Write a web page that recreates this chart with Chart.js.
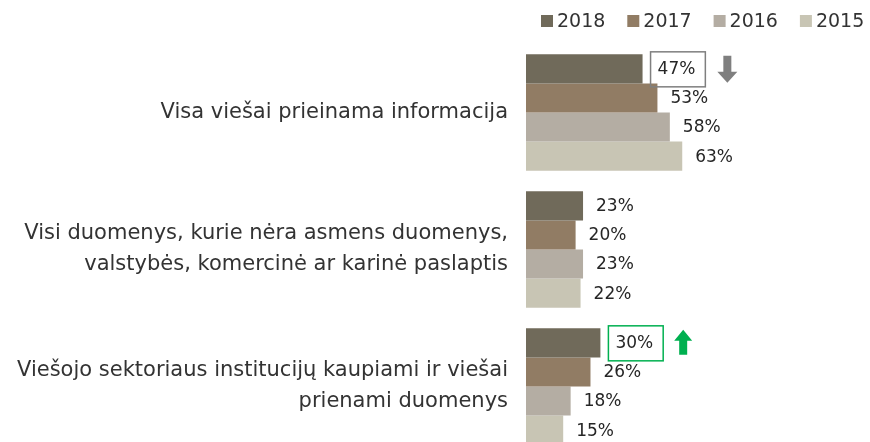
<!DOCTYPE html>
<html>
<head>
<meta charset="utf-8">
<script src="https://cdn.jsdelivr.net/npm/chart.js@4.4.1/dist/chart.umd.min.js"></script>
<style>
  html, body { margin: 0; padding: 0; background: #fff; overflow: hidden; }
  #wrap { width: 870px; height: 470px; }
</style>
</head>
<body>
<div id="wrap"><canvas id="openData" width="870" height="470"></canvas></div>
<script>
// categories (multi-line labels)
var categories = [
    ['Visa viešai prieinama informacija'],
    ['Visi duomenys, kurie nėra asmens duomenys,', 'valstybės, komercinė ar karinė paslaptis'],
    ['Viešojo sektoriaus institucijų kaupiami ir viešai', 'prienami duomenys']
];
var years = ['2018', '2017', '2016', '2015'];
var values2018 = [47, 23, 30];
var values2017 = [53, 20, 26];
var values2016 = [58, 23, 18];
var values2015 = [63, 22, 15];
var yearColors = ['#706a5a', '#917c64', '#b4ada3', '#c8c5b4'];

// highlighted labels: [dataset, index, colour, direction]
var highlights = [
    [0, 0, '#7f7f7f', 'down'],
    [0, 2, '#00b050', 'up']
];

var fontName = '"DejaVu Sans", sans-serif';

var labelsPlugin = {
    id: 'valueLabels',
    afterDatasetsDraw: function(chart) {
        var ctx = chart.ctx;
        ctx.save();
        ctx.font = '17px ' + fontName;
        ctx.textBaseline = 'middle';
        ctx.textAlign = 'left';
        chart.data.datasets.forEach(function(ds, di) {
            var meta = chart.getDatasetMeta(di);
            meta.data.forEach(function(bar, i) {
                var txt = ds.data[i] + '%';
                var hl = null;
                highlights.forEach(function(h) {
                    if (h[0] === di && h[1] === i) hl = h;
                });
                var tx = bar.x + (hl ? 15 : 13);
                var ty = bar.y + 1;
                ctx.fillStyle = '#262626';
                ctx.fillText(txt, tx, ty);
                if (hl) {
                    var w = ctx.measureText(txt).width;
                    var left = bar.x + 8;
                    var right = tx + w + 10;
                    ctx.strokeStyle = hl[2];
                    ctx.lineWidth = 1.5;
                    ctx.strokeRect(left, bar.y - 17, right - left, 35);
                    // arrow
                    var top = bar.y - 13, bot = bar.y + 14;
                    var ax;
                    ctx.fillStyle = hl[2];
                    ctx.beginPath();
                    if (hl[3] === 'down') {
                        ax = right + 22;
                        ctx.moveTo(ax - 4, top);
                        ctx.lineTo(ax + 4, top);
                        ctx.lineTo(ax + 4, bot - 11);
                        ctx.lineTo(ax + 10, bot - 11);
                        ctx.lineTo(ax, bot);
                        ctx.lineTo(ax - 10, bot - 11);
                        ctx.lineTo(ax - 4, bot - 11);
                    } else {
                        ax = right + 20;
                        ctx.moveTo(ax - 4, bot - 2);
                        ctx.lineTo(ax + 4, bot - 2);
                        ctx.lineTo(ax + 4, top + 11);
                        ctx.lineTo(ax + 9, top + 11);
                        ctx.lineTo(ax, top);
                        ctx.lineTo(ax - 9, top + 11);
                        ctx.lineTo(ax - 4, top + 11);
                    }
                    ctx.closePath();
                    ctx.fill();
                }
            });
        });
        ctx.restore();
    }
};

var legendPlugin = {
    id: 'topLegend',
    afterDraw: function(chart) {
        var ctx = chart.ctx;
        ctx.save();
        ctx.font = '19px ' + fontName;
        ctx.textBaseline = 'middle';
        ctx.textAlign = 'left';
        chart.data.datasets.forEach(function(ds, i) {
            var x = 541 + i * 86.3;
            ctx.fillStyle = ds.backgroundColor;
            ctx.fillRect(x, 15, 12, 12);
            ctx.fillStyle = '#333333';
            ctx.fillText(ds.label, x + 16, 22);
        });
        ctx.restore();
    }
};

var ctx = document.getElementById('openData').getContext('2d');
var openData = new Chart(ctx, {
    type: 'bar',
    data: {
        labels: categories,
        datasets: [
            { label: years[0], data: values2018, backgroundColor: yearColors[0] },
            { label: years[1], data: values2017, backgroundColor: yearColors[1] },
            { label: years[2], data: values2016, backgroundColor: yearColors[2] },
            { label: years[3], data: values2015, backgroundColor: yearColors[3] }
        ]
    },
    options: {
        indexAxis: 'y',
        responsive: false,
        animation: false,
        categoryPercentage: 0.85,
        barPercentage: 1.0,
        layout: {
            padding: { top: 44, bottom: 15, right: 96, left: 0 }
        },
        scales: {
            x: {
                display: false,
                min: 0,
                max: 100
            },
            y: {
                grid: { display: false, drawTicks: false },
                border: { display: false },
                ticks: {
                    padding: 18,
                    color: '#333333',
                    font: { family: fontName, size: 21, lineHeight: 1.48 }
                },
                afterFit: function(scale) {
                    scale.width = 526;
                    scale.paddingTop = 0;
                    scale.paddingBottom = 0;
                }
            }
        },
        plugins: {
            legend: { display: false },
            tooltip: { enabled: false }
        }
    },
    plugins: [labelsPlugin, legendPlugin]
});
</script>
</body>
</html>
